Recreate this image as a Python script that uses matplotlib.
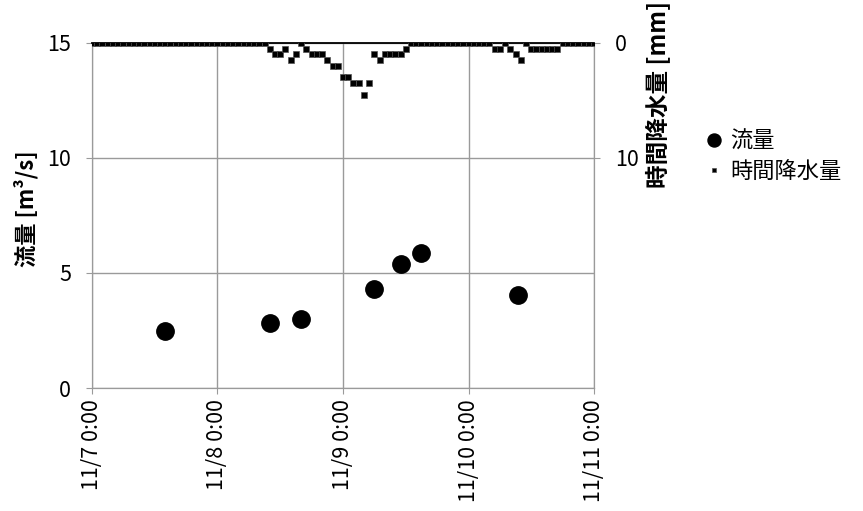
import numpy as np
import pandas as pd
import matplotlib
matplotlib.use('Agg')
import matplotlib.pyplot as plt
import matplotlib.dates as mdates

plt.rcParams['font.family'] = ['Noto Sans CJK JP', 'DejaVu Sans']

# flow observations [m3/s]
flow_times = pd.to_datetime(['2013-11-07 14:00', '2013-11-08 10:00', '2013-11-08 16:00',
                             '2013-11-09 06:00', '2013-11-09 11:00', '2013-11-09 15:00',
                             '2013-11-10 09:30'])
flow_values = [2.49, 2.81, 2.99, 4.30, 5.38, 5.88, 4.04]

# hourly rainfall [mm], 11/7 0:00 .. 11/11 0:00
rain_values = ([0.0] * 34 +
               [0.5, 1.0, 1.0, 0.5, 1.5, 1.0, 0.0, 0.5, 1.0, 1.0, 1.0, 1.5, 2.0, 2.0,
                3.0, 3.0, 3.5, 3.5, 4.5, 3.5, 1.0, 1.5, 1.0, 1.0, 1.0, 1.0, 0.5] +
               [0.0] * 16 +
               [0.5, 0.5, 0.0, 0.5, 1.0, 1.5, 0.0, 0.5, 0.5, 0.5, 0.5, 0.5, 0.5] +
               [0.0] * 7)
rain_times = pd.date_range('2013-11-07 00:00', periods=len(rain_values), freq='h')

x_start = pd.Timestamp('2013-11-07 00:00')
x_end = pd.Timestamp('2013-11-11 00:00')

fig = plt.figure(figsize=(8.63, 5.11), dpi=100)
ax = fig.add_axes([0.1066, 0.2407, 0.5817, 0.6752])
ax2 = ax.twinx()

grid_col = '#9a9a9a'

ax.plot(flow_times, flow_values, 'o', color='black', markersize=12.5, label='流量', zorder=3)
ax.set_xlim(x_start, x_end)
ax.set_ylim(0, 15)
ax.set_yticks([0, 5, 10, 15])
ax.xaxis.set_major_locator(mdates.DayLocator())
ax.xaxis.set_major_formatter(plt.FuncFormatter(
    lambda v, p: '%d/%d 0:00' % (mdates.num2date(v).month, mdates.num2date(v).day)))
ax.tick_params(axis='x', labelrotation=90, labelsize=15.5, length=4, color=grid_col, pad=4)
ax.tick_params(axis='y', labelsize=15.5, length=4, color=grid_col, pad=11)
ax.grid(True, color=grid_col, linewidth=1)
ax.set_axisbelow(True)
for s in ['left', 'bottom', 'right']:
    ax.spines[s].set_color(grid_col)
ax.spines['top'].set_color('black')
ax.spines['top'].set_linewidth(1.3)
fig.text(0.030, 0.591, '流量 [m³/s]', rotation=90, fontsize=16, fontweight='bold',
         ha='center', va='center')

ax2.plot(rain_times, rain_values, 's', color='black', markeredgecolor='#555555',
         markeredgewidth=0.5, markersize=4, label='時間降水量', zorder=4)
ax2.set_ylim(30, 0)
ax2.set_yticks([0, 10])
ax2.tick_params(axis='y', labelsize=15.5, length=4, color=grid_col, pad=11)
for s in ['left', 'bottom', 'right']:
    ax2.spines[s].set_color(grid_col)
ax2.spines['top'].set_visible(False)
fig.text(0.762, 0.999, '時間降水量 [mm]', rotation=90, fontsize=17, fontweight='bold',
         ha='center', va='top')

h1, l1 = ax.get_legend_handles_labels()
h2, l2 = ax2.get_legend_handles_labels()
fig.legend(h1 + h2, l1 + l2, loc='upper left', bbox_to_anchor=(0.797, 0.785),
           frameon=False, fontsize=16, handlelength=0.6, handletextpad=0.4,
           labelspacing=0.3, markerscale=0.75)

fig.savefig('out.png', dpi=100)
